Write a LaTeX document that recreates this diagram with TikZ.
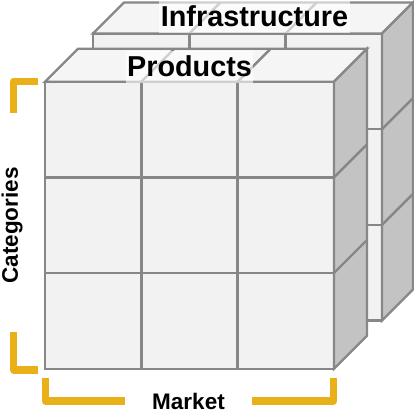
\documentclass[tikz,border=0pt]{standalone}
\usepackage{fontspec}
\setmainfont{Liberation Sans}
\definecolor{edgegray}{HTML}{878787}
\definecolor{facefront}{HTML}{F2F2F2}
\definecolor{facetop}{HTML}{F5F5F5}
\definecolor{faceside}{HTML}{C3C3C3}
\definecolor{bracketorange}{HTML}{EAB01A}

\begin{document}
\begin{tikzpicture}[%
      x=1pt, y=-1pt,
      edge/.style={draw=edgegray, line width=2.4pt, line join=miter},
      bracket/.style={draw=bracketorange, line width=7.5pt, line join=round},
      cubelabel/.style={fill=white, fill opacity=0.6, text opacity=1, inner sep=0pt,
        text depth=0pt, font=\bfseries\fontsize{28.8}{30}\selectfont},
      axislabel/.style={inner sep=0pt, font=\bfseries\fontsize{22.5}{24}\selectfont},
      ]
      \useasboundingbox (0,0) rectangle (413,415);

      % two cubes: back (Infrastructure) first, then front (Products)
      \foreach \ox/\oy/\d in {93/33.5/31, 45/81.7/33} {
        \filldraw [edge, fill=facefront] (\ox,\oy) rectangle ++(289,287);
        \foreach \i in {1,2} {
          \draw [edge] (\ox+\i*96.33,\oy) -- ++(0,287);
          \draw [edge] (\ox,\oy+\i*95.67) -- ++(289,0);
        }
        \filldraw [edge, fill=facetop] (\ox,\oy) -- ++(\d,-\d) -- ++(289,0) -- ++(-\d,\d) -- cycle;
        \filldraw [edge, fill=faceside] (\ox+289,\oy) -- ++(\d,-\d) -- ++(0,287) -- ++(-\d,\d) -- cycle;
        \foreach \i in {1,2} {
          \draw [edge] (\ox+\i*96.33,\oy) -- ++(\d,-\d);
          \draw [edge] (\ox+289,\oy+\i*95.67) -- ++(\d,-\d);
        }
        \ifdim \d pt > 32pt
          \node [cubelabel, minimum width=127pt, minimum height=32pt] (products) at (189.5,66.5) {Products};
        \else
          \node [cubelabel, minimum width=191pt, minimum height=33pt] (infra) at (254.5,16.5) {Infrastructure};
        \fi
      }

      % brackets
      \draw [bracket] (38,81.5) -- (13.7,81.5) -- (13.7,113);
      \draw [bracket] (13.7,332) -- (13.7,370) -- (38,370);
      \draw [bracket] (45.5,378) -- (45.5,401) -- (125,401);
      \draw [bracket] (252,401) -- (333.5,401) -- (333.5,378);

      \node [axislabel, rotate=90] (categories) at (12,225.5) {Categories};
      \node [axislabel] (market) at (188.5,401) {Market};
      \end{tikzpicture}
\end{document}
